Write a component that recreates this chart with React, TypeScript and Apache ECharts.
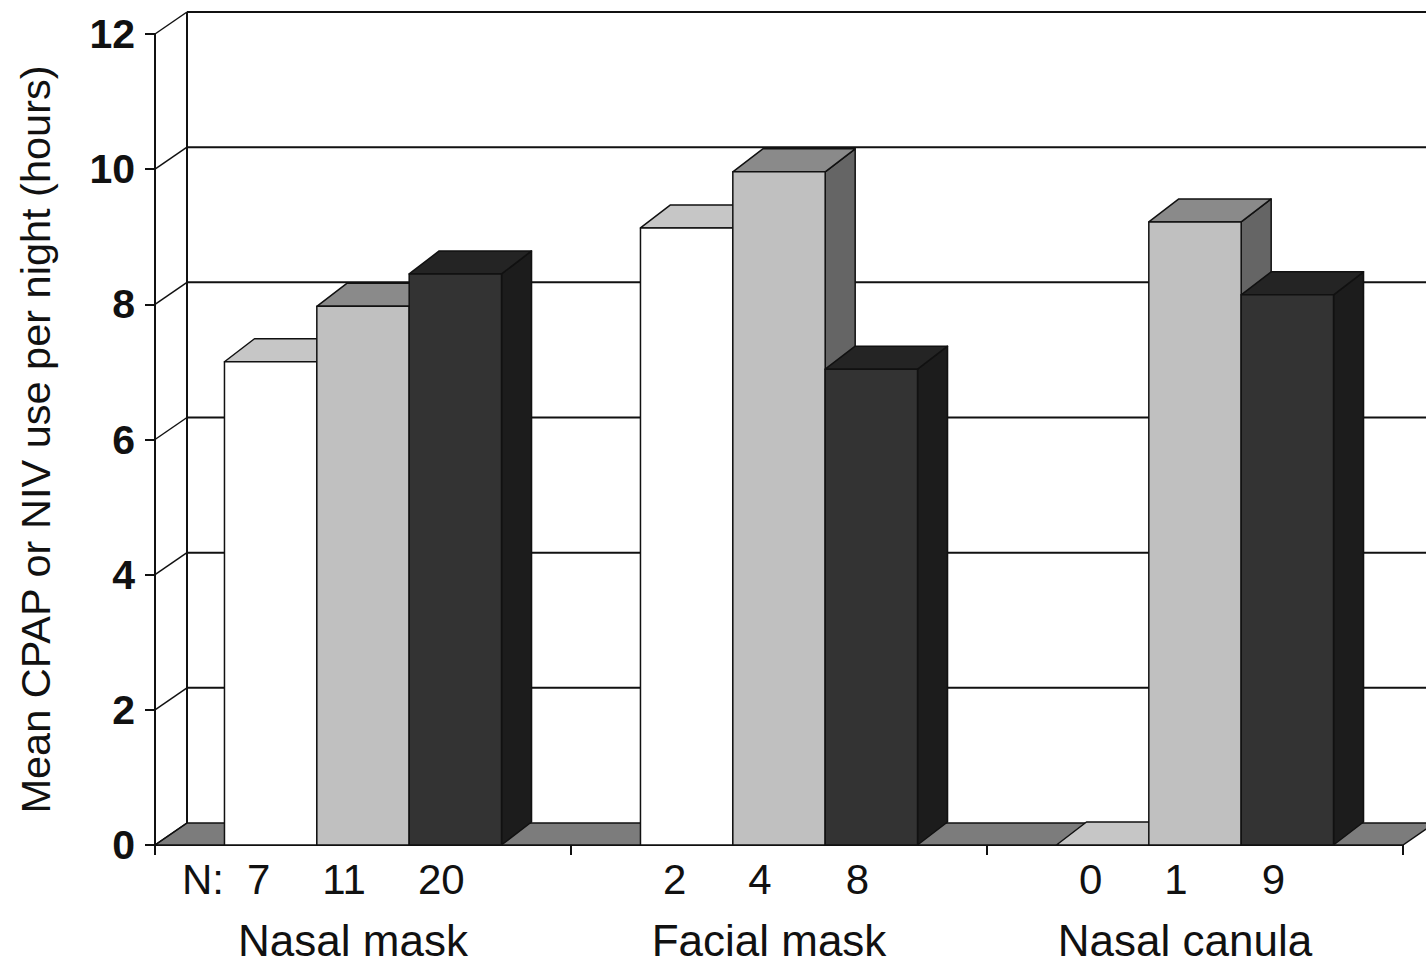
import React, { useEffect, useRef } from "react";
import * as echarts from "echarts";

// ---------- data ----------
const categories = ["Nasal mask", "Facial mask", "Nasal canula"];
const whiteValues = [7.15, 9.13, 0];
const lightValues = [7.97, 9.96, 9.22];
const darkValues = [8.45, 7.04, 8.14];
const whiteN = [7, 2, 0];
const lightN = [11, 4, 1];
const darkN = [20, 8, 9];
const yTicks = [0, 2, 4, 6, 8, 10, 12];
const nPrefix = "N:";
const yTitle = "Mean CPAP or NIV use per night (hours)";

// ---------- style ----------
const FONT = "'Liberation Sans', Arial, Helvetica, sans-serif";
const WALL_DX = 32;
const WALL_DY = -22;
const BAR_DX = 30;
const BAR_DY = -23;
const BAR_FRAC = 0.222;
const N_OFFSETS = [-12, -19, -14];

const barStyles = [
  { front: "#ffffff", top: "#c6c6c6", side: "#a0a0a0" },
  { front: "#c0c0c0", top: "#8a8a8a", side: "#656565" },
  { front: "#333333", top: "#242424", side: "#1c1c1c" },
];

export default function App() {
  const ref = useRef<HTMLDivElement>(null);

  useEffect(() => {
    if (!ref.current) return;
    const chart = echarts.init(ref.current, undefined, { renderer: "svg" });

    const seriesVals = [whiteValues, lightValues, darkValues];
    const seriesN = [whiteN, lightN, darkN];

    const frameSeries: any = {
      type: "custom",
      z: 1,
      silent: true,
      data: [[0, 0]],
      renderItem: (params: any, api: any) => {
        const band = api.size([1, 0])[0];
        const x0 = api.coord([0, 0])[0] - band / 2;
        const x1 = api.coord([categories.length - 1, 0])[0] + band / 2;
        const y0 = api.coord([0, 0])[1];
        const children: any[] = [];
        const lineStyle = { stroke: "#111", lineWidth: 2 };
        // floor
        children.push({
          type: "polygon",
          shape: {
            points: [
              [x0, y0],
              [x1, y0],
              [x1 + WALL_DX, y0 + WALL_DY],
              [x0 + WALL_DX, y0 + WALL_DY],
            ],
          },
          style: { fill: "#7c7c7c", stroke: "#111", lineWidth: 1.5 },
        });
        yTicks.forEach((t) => {
          const y = api.coord([0, t])[1];
          if (t > 0) {
            children.push({
              type: "line",
              shape: { x1: x0 + WALL_DX, y1: y + WALL_DY, x2: x1 + WALL_DX + 40, y2: y + WALL_DY },
              style: lineStyle,
            });
          }
          children.push({
            type: "line",
            shape: { x1: x0, y1: y, x2: x0 + WALL_DX, y2: y + WALL_DY },
            style: { stroke: "#111", lineWidth: 1.5 },
          });
        });
        // back wall left edge
        const yTop = api.coord([0, yTicks[yTicks.length - 1]])[1];
        children.push({
          type: "line",
          shape: { x1: x0 + WALL_DX, y1: y0 + WALL_DY, x2: x0 + WALL_DX, y2: yTop + WALL_DY },
          style: lineStyle,
        });
        return { type: "group", children };
      },
    };

    const barSeries = seriesVals.map((vals, si) => ({
      type: "custom",
      z: 2,
      silent: true,
      data: vals.map((v, i) => [i, v, seriesN[si][i]]),
      renderItem: (params: any, api: any) => {
        const idx = api.value(0);
        const val = api.value(1);
        const n = api.value(2);
        const band = api.size([1, 0])[0];
        const base = api.coord([idx, 0]);
        const top = api.coord([idx, val]);
        const w = band * BAR_FRAC;
        const cx = base[0] + (si - 1) * w;
        const xl = cx - w / 2;
        const xr = cx + w / 2;
        const yb = base[1];
        const yt = top[1];
        const st = barStyles[si];
        const edge = { stroke: "#111", lineWidth: 1.5, lineJoin: "round" };
        const children: any[] = [];
        if (yb - yt > 0.5) {
          children.push({
            type: "polygon",
            shape: { points: [[xr, yb], [xr + BAR_DX, yb + BAR_DY], [xr + BAR_DX, yt + BAR_DY], [xr, yt]] },
            style: { fill: st.side, ...edge },
          });
        }
        children.push({
          type: "polygon",
          shape: { points: [[xl, yt], [xl + BAR_DX, yt + BAR_DY], [xr + BAR_DX, yt + BAR_DY], [xr, yt]] },
          style: { fill: st.top, ...edge },
        });
        if (yb - yt > 0.5) {
          children.push({
            type: "polygon",
            shape: { points: [[xl, yb], [xr, yb], [xr, yt], [xl, yt]] },
            style: { fill: st.front, ...edge },
          });
        }
        children.push({
          type: "text",
          x: cx + N_OFFSETS[si],
          y: yb + 34,
          style: {
            text: String(n),
            fontSize: 42,
            fontFamily: FONT,
            fill: "#111",
            align: "center",
            verticalAlign: "middle",
          },
        });
        return { type: "group", children };
      },
    }));

    const labelSeries: any = {
      type: "custom",
      z: 3,
      silent: true,
      data: categories.map((c, i) => [i, 0]),
      renderItem: (params: any, api: any) => {
        const idx = api.value(0);
        const band = api.size([1, 0])[0];
        const p = api.coord([idx, 0]);
        const children: any[] = [
          {
            type: "text",
            x: p[0] - 10,
            y: p[1] + 95,
            style: {
              text: categories[idx],
              fontSize: 44,
              fontFamily: FONT,
              fill: "#111",
              align: "center",
              verticalAlign: "middle",
            },
          },
        ];
        if (idx === 0) {
          children.push({
            type: "text",
            x: p[0] - band / 2 + 48,
            y: p[1] + 34,
            style: {
              text: nPrefix,
              fontSize: 42,
              fontFamily: FONT,
              fill: "#111",
              align: "center",
              verticalAlign: "middle",
            },
          });
        }
        return { type: "group", children };
      },
    };

    chart.setOption({
      animation: false,
      backgroundColor: "#ffffff",
      grid: { left: 155, right: 23, top: 34, bottom: 119, containLabel: false, outerBoundsMode: "none" },
      xAxis: {
        type: "category",
        data: categories,
        boundaryGap: true,
        axisLine: { show: true, lineStyle: { color: "#111", width: 2 } },
        axisTick: { show: true, length: 10, lineStyle: { color: "#111", width: 2 } },
        axisLabel: { show: false },
        splitLine: { show: false },
      },
      yAxis: {
        type: "value",
        min: 0,
        max: 12,
        interval: 2,
        name: yTitle,
        nameLocation: "middle",
        nameGap: 99,
        nameTextStyle: { fontSize: 41.5, fontFamily: FONT, color: "#111" },
        axisLine: { show: true, lineStyle: { color: "#111", width: 2 } },
        axisTick: { show: true, length: 10, lineStyle: { color: "#111", width: 2 } },
        axisLabel: { fontSize: 41, fontWeight: "bold", fontFamily: FONT, color: "#111", margin: 20 },
        splitLine: { show: false },
      },
      series: [frameSeries, ...barSeries, labelSeries],
    });

    return () => chart.dispose();
  }, []);

  return (
    <div
      ref={ref}
      style={{ position: "fixed", left: 0, top: 0, width: 1426, height: 964, background: "#fff" }}
    />
  );
}
